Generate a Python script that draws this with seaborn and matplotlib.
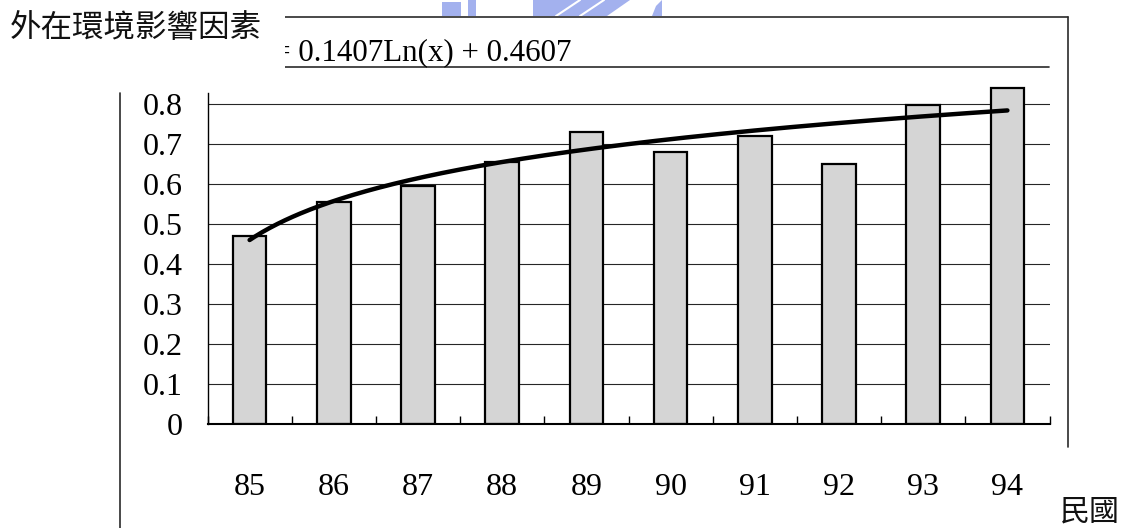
import numpy as np
import pandas as pd
import matplotlib
matplotlib.use("Agg")
import matplotlib.pyplot as plt
from matplotlib.lines import Line2D
from matplotlib.patches import Rectangle, Polygon
import seaborn as sns

# ---- data -------------------------------------------------------------
years = ["85", "86", "87", "88", "89", "90", "91", "92", "93", "94"]
scores = [0.47, 0.555, 0.595, 0.657, 0.732, 0.681, 0.72, 0.651, 0.798, 0.84]

# logarithmic trend line  y = a*Ln(x) + b  (x = 1..10)
trend_slope = 0.1407
trend_intercept = 0.4607

y_ticks = [0.0, 0.1, 0.2, 0.3, 0.4, 0.5, 0.6, 0.7, 0.8]
y_tick_labels = ["0", "0.1", "0.2", "0.3", "0.4", "0.5", "0.6", "0.7", "0.8"]

title_text = "外在環境影響因素"
xunit_text = "民國"
equation_text = f"y = {trend_slope}Ln(x) + {trend_intercept}"

# ---- style ------------------------------------------------------------
sns.set_theme(style="white")
plt.rcParams["font.family"] = ["Liberation Serif", "Noto Sans CJK TC"]
cjk = ["Noto Sans CJK TC", "DejaVu Sans"]

W, H = 1126, 528
fig = plt.figure(figsize=(W / 100, H / 100), dpi=100)
fig.patch.set_facecolor("white")


def fx(px):
    return px / W


def fy(py):
    return 1 - py / H


px_per_unit = 400.0
y_top = 0.85
ax = fig.add_axes([fx(207.5), fy(424.3), fx(1049.5) - fx(207.5), y_top * px_per_unit / H])
ax.set_facecolor("none")

df = pd.DataFrame({"year": years, "score": scores})

# horizontal gridlines behind the bars
ax.hlines(y_ticks, -0.5, 9.5, colors="#262626", linewidth=0.8, zorder=0.5)

sns.barplot(data=df, x="year", y="score", ax=ax, width=0.4,
            color="#d5d5d5", saturation=1, edgecolor="black",
            linewidth=1.6, zorder=1)

# trend line
t = np.linspace(1, len(years), 300)
trend = trend_slope * np.log(t) + trend_intercept
sns.lineplot(x=t - 1, y=trend, ax=ax, color="black", linewidth=3.2,
             zorder=3, sort=False)

ax.set_xlim(-0.5, len(years) - 0.5)
ax.set_ylim(0, y_top)
ax.set_xlabel("")
ax.set_ylabel("")

for side in ("top", "right"):
    ax.spines[side].set_visible(False)
ax.spines["left"].set_color("black")
ax.spines["left"].set_linewidth(1.0)
ax.spines["left"].set_bounds(0, 0.828)
ax.spines["bottom"].set_color("black")
ax.spines["bottom"].set_linewidth(1.5)

ax.set_yticks(y_ticks)
ax.set_yticklabels(y_tick_labels)
ax.set_xticks(range(len(years)))
ax.set_xticklabels(years)
ax.set_xticks(np.arange(-0.5, len(years), 1.0), minor=True)

ax.tick_params(axis="y", which="both", length=0, pad=18, labelsize=23,
               labelcolor="black")
ax.tick_params(axis="x", which="both", direction="in", length=6, width=1,
               color="black", bottom=True, pad=35, labelsize=23,
               labelcolor="black")

# ---- chart frame and labels ------------------------------------------
frame = dict(transform=fig.transFigure, color="#2a2a2a", linewidth=1.2)
fig.add_artist(Line2D([fx(285), fx(1068)], [fy(17), fy(17)], **frame))
fig.add_artist(Line2D([fx(1068), fx(1068)], [fy(17), fy(447)], **frame))
fig.add_artist(Line2D([fx(285), fx(1049)], [fy(66.5), fy(66.5)], **frame))
fig.add_artist(Line2D([fx(120), fx(120)], [fy(93), fy(528)], **frame))

# faint page watermark peeking above the chart frame
wm = "#a3b1ee"
for pts in ([(442, 2), (461, 2), (461, 16), (442, 16)],
            [(468, 0), (476, 0), (476, 16), (468, 16)],
            [(533, 0), (630, 0), (607, 16), (533, 16)],
            [(652, 16), (656, 6), (662, 0), (662, 16)]):
    fig.add_artist(Polygon([(fx(a), fy(b)) for a, b in pts], closed=True,
                           transform=fig.transFigure, facecolor=wm,
                           edgecolor="none", zorder=0.8))
for x0 in (556, 580):
    fig.add_artist(Line2D([fx(x0), fx(x0 + 24)], [fy(16), fy(0)],
                          transform=fig.transFigure, color="white",
                          linewidth=1.5, zorder=0.9))

fig.text(fx(572), fy(61), equation_text, ha="right", va="baseline",
         fontsize=22.3, color="black", family="Liberation Serif", zorder=3)

# title block sits above the equation box
fig.add_artist(Rectangle((0, fy(90)), fx(285), fy(0) - fy(90),
                         transform=fig.transFigure, facecolor="white",
                         edgecolor="none", zorder=4))
fig.text(fx(10), fy(28), title_text, ha="left", va="center",
         fontsize=22.7, color="#111111", family=cjk, fontweight="light",
         zorder=5)
fig.text(fx(1060), fy(512), xunit_text, ha="left", va="center",
         fontsize=21.6, color="#111111", family=cjk, fontweight="light",
         zorder=5)

fig.savefig("out.png", dpi=100, facecolor="white")
